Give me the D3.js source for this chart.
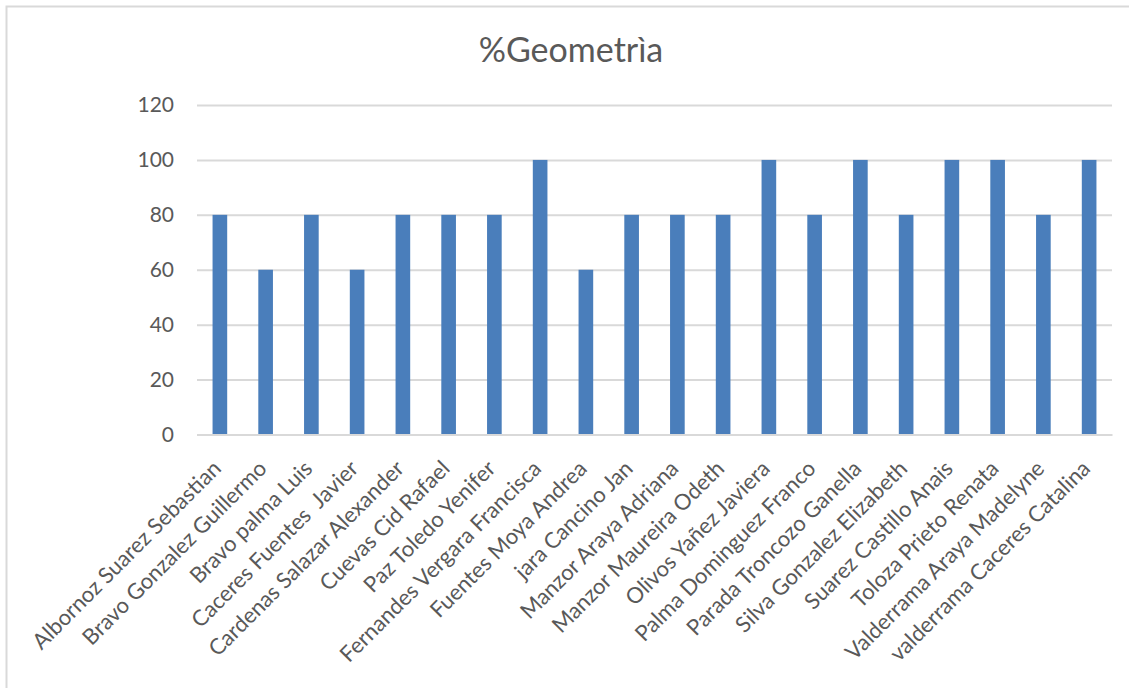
<!DOCTYPE html>
<html><head><meta charset="utf-8">
<script src="https://cdn.jsdelivr.net/npm/d3@7"></script>
<style>
html,body{margin:0;padding:0;background:#fff;}
svg text{font-family:Lato,"Open Sans",sans-serif;fill:#595959;white-space:pre;}
</style></head>
<body><svg id="chart" width="1129" height="688"></svg>
<script>
const title = "%Geometrìa";
const categories = ["Albornoz Suarez Sebastian","Bravo Gonzalez Guillermo","Bravo palma Luis","Caceres Fuentes  Javier","Cardenas Salazar Alexander","Cuevas Cid Rafael","Paz Toledo Yenifer","Fernandes Vergara Francisca","Fuentes Moya Andrea","jara Cancino Jan","Manzor Araya Adriana","Manzor Maureira Odeth","Olivos Yañez Javiera","Palma Dominguez Franco","Parada Troncozo Ganella","Silva Gonzalez Elizabeth","Suarez Castillo Anais","Toloza Prieto Renata","Valderrama Araya Madelyne","valderrama Caceres Catalina"];
const values = [80,60,80,60,80,80,80,100,60,80,80,80,100,80,100,80,100,100,80,100];
const yTicks = [0,20,40,60,80,100,120];

const svg = d3.select("#chart");
svg.append("rect").attr("x",6.5).attr("y",6.5).attr("width",1130).attr("height",700)
  .attr("fill","#fff").attr("stroke","#d9d9d9").attr("stroke-width",2);

const pLeft=197,pRight=1112,pTop=105,pBottom=434.5;
const x = d3.scaleBand().domain(categories).range([pLeft,pRight]).paddingInner(0.68).paddingOuter(0.34);
const y = d3.scaleLinear().domain([0,120]).range([pBottom,pTop]);

svg.append("text").attr("x",571).attr("y",62).attr("text-anchor","middle")
  .style("font-size","34px").text(title);

const gy = svg.append("g").attr("transform",`translate(${pLeft},0)`)
  .call(d3.axisLeft(y).tickValues(yTicks).tickSize(-(pRight-pLeft)).tickPadding(23));
gy.select(".domain").remove();
gy.selectAll(".tick line").attr("stroke","#d9d9d9").attr("stroke-width",2);
gy.selectAll(".tick text").style("font-size","21px").attr("fill","#595959");

svg.append("g").selectAll("rect").data(values).join("rect")
  .attr("x",(d,i)=>x(categories[i])).attr("width",x.bandwidth())
  .attr("y",d=>y(d)).attr("height",d=>y(0)-y(d)).attr("fill","#4a7ebb");

const gx = svg.append("g").attr("transform",`translate(0,${pBottom})`)
  .call(d3.axisBottom(x).tickSize(0).tickPadding(0));
gx.select(".domain").attr("stroke","#d9d9d9").attr("stroke-width",2);
gx.selectAll(".tick text")
  .style("font-size","22px").attr("fill","#595959")
  .attr("text-anchor","end").attr("dy",null).attr("y",0)
  .attr("transform","translate(-10,23) rotate(-45)")
  .attr("dominant-baseline","hanging");
</script></body></html>
